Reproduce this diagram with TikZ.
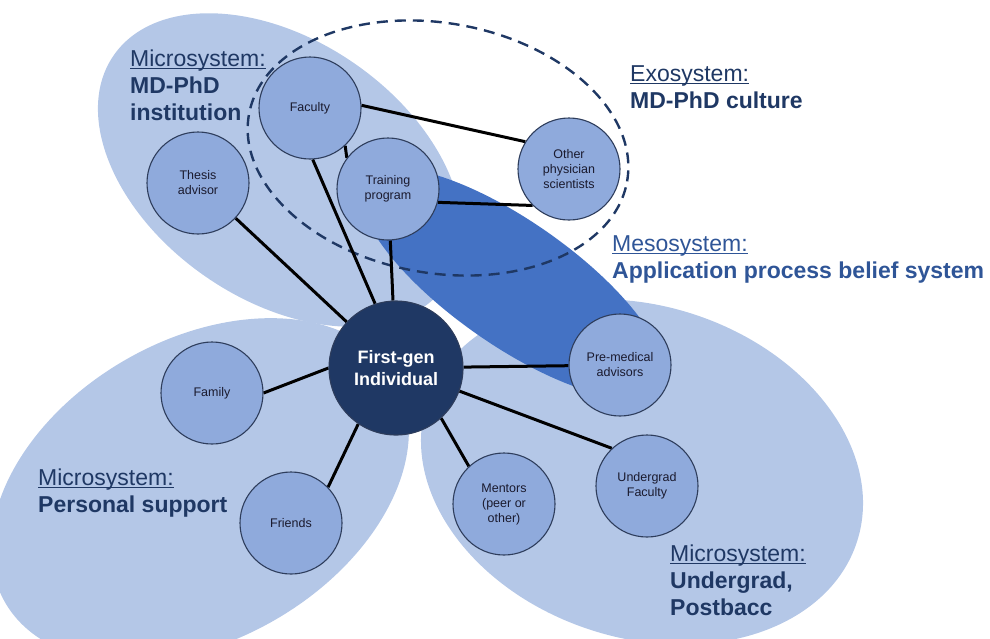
\documentclass[tikz,border=0pt]{standalone}
\usepackage{fontspec}
\setmainfont{Liberation Sans}
\definecolor{ellfill}{HTML}{B4C7E7}
\definecolor{circfill}{HTML}{8FAADC}
\definecolor{circline}{HTML}{2E3D5C}
\definecolor{navy}{HTML}{1F3864}
\definecolor{meso}{HTML}{4472C4}
\definecolor{mesotext}{HTML}{2F5597}
\definecolor{nodetext}{HTML}{1A1A2E}
\newsavebox\ulbox
\newcommand\myul[1]{\sbox\ulbox{#1}\rlap{\rule[-2.6pt]{\wd\ulbox}{1.1pt}}\usebox\ulbox}
\pgfdeclarelayer{back}
\pgfdeclarelayer{edges}
\pgfsetlayers{back,edges,main}
\begin{document}
\begin{tikzpicture}[x=1pt,y=-1pt,
  sysnode/.style={circle, draw=circline, line width=1.1pt, fill=circfill, minimum size=102pt, inner sep=0pt, align=center, text=nodetext, font=\fontsize{12.5}{15}\selectfont},
  centernode/.style={circle, fill=navy, draw=circline, line width=1.1pt, minimum size=134pt, inner sep=0pt, align=center, text=white, font=\fontsize{18}{22}\selectfont\bfseries},
  link/.style={line width=3pt, black},
  lbl/.style={anchor=base west, align=left, inner sep=0pt, text=navy, font=\fontsize{23}{27}\selectfont},
  sysell/.style={fill=ellfill}]
\useasboundingbox (0,0) rectangle (990,638);
\clip (0,0) rectangle (990,638);
\begin{pgfonlayer}{back}
% microsystem ellipses
\fill[sysell, rotate around={-34.5:(280,170)}] (280,170) ellipse [x radius=202pt, y radius=130pt];
\fill[sysell, rotate around={30:(200,490)}] (200,490) ellipse [x radius=225pt, y radius=150pt];
\fill[sysell, rotate around={-18:(642,472)}] (642,472) ellipse [x radius=226pt, y radius=166pt];
% mesosystem band
\fill[meso, rotate around={-35:(512,283)}] (512,283) ellipse [x radius=180pt, y radius=62pt];
% exosystem
\draw[navy, line width=2.4pt, dash pattern=on 11pt off 7pt, rotate around={-10:(438,148)}] (438,148) ellipse [x radius=192pt, y radius=125pt];
\end{pgfonlayer}
% nodes
\node[centernode] (cen) at (396,368) {First-gen\\Individual};
\node[sysnode] (fac) at (310,108) {Faculty};
\node[sysnode] (thes) at (198,183) {Thesis\\advisor};
\node[sysnode] (train) at (388,189) {Training\\program};
\node[sysnode] (oth) at (569,169) {Other\\physician\\scientists};
\node[sysnode] (fam) at (212,393) {Family};
\node[sysnode] (fri) at (291,523) {Friends};
\node[sysnode] (men) at (504,504) {Mentors\\(peer or\\other)};
\node[sysnode] (ug) at (647,486) {Undergrad\\Faculty};
\node[sysnode] (pre) at (620,365) {Pre-medical\\advisors};
% connectors
\begin{pgfonlayer}{edges}
\draw[link] (cen) -- (thes);
\draw[link] (cen.108) -- (fac.-87);
\draw[link] (cen) -- (train);
\draw[link] (fac.-47) -- (train.143);
\draw[link] (fac.3) -- (oth.148);
\draw[link] (train.-15) -- (oth.-135);
\draw[link] (cen.180) -- (fam.0);
\draw[link] (cen.236) -- (fri.44);
\draw[link] (cen.-48) -- (men.133);
\draw[link] (cen.-20) -- (ug.133);
\draw[link] (cen) -- (pre);
\end{pgfonlayer}
% labels
\node[lbl] (lmd) at (130,120) {\myul{Microsystem:}\\\textbf{MD-PhD}\\\textbf{institution}};
\node[lbl] (lexo) at (630,108) {\myul{Exosystem:}\\\textbf{MD-PhD culture}};
\node[lbl, text=mesotext] (lmeso) at (612,278) {\myul{Mesosystem:}\\\textbf{Application process belief system}};
\node[lbl] (lps) at (38,512) {\myul{Microsystem:}\\\textbf{Personal support}};
\node[lbl] (lug) at (670,615) {\myul{Microsystem:}\\\textbf{Undergrad,}\\\textbf{Postbacc}};
\end{tikzpicture}
\end{document}
